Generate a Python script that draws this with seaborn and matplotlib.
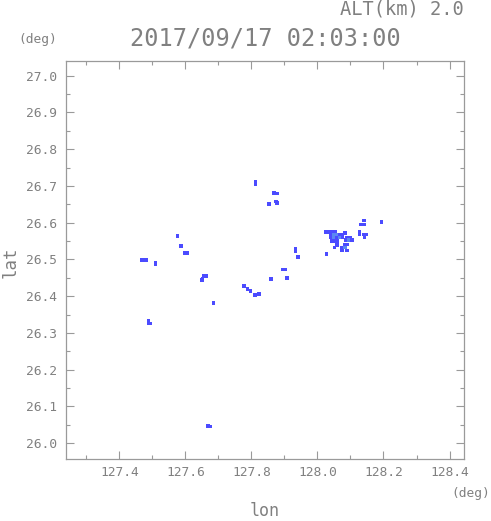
import matplotlib
matplotlib.use("Agg")
import matplotlib.pyplot as plt
import seaborn as sns
import pandas as pd
from matplotlib.ticker import MultipleLocator

# echo cells (lon, lat, level: 1 = weak, 2 = a bit stronger)
lon = [127.469, 127.480, 127.509, 127.509, 127.576, 127.586, 127.597, 127.606,
       127.656, 127.664, 127.652, 127.650, 127.685, 127.488, 127.488, 127.494,
       127.668, 127.676,
       127.812, 127.812, 127.868, 127.878, 127.853, 127.878, 127.874, 127.933,
       127.933, 127.941, 127.894, 127.902, 127.908, 127.859, 127.777, 127.788,
       127.797, 127.823, 127.811,
       128.024, 128.032, 128.044, 128.053, 128.040, 128.049, 128.058, 128.067,
       128.076, 128.040, 128.049, 128.058, 128.067, 128.076, 128.043, 128.052,
       128.059, 128.083, 128.090, 128.099, 128.087, 128.096, 128.105, 128.059,
       128.052, 128.082, 128.090, 128.074, 128.083, 128.074, 128.090, 128.027,
       128.127, 128.127, 128.140, 128.131, 128.140, 128.140, 128.147, 128.142,
       128.194]
lat = [26.499, 26.498, 26.492, 26.486, 26.564, 26.536, 26.517, 26.517,
       26.454, 26.454, 26.448, 26.444, 26.381, 26.332, 26.326, 26.326,
       26.047, 26.045,
       26.712, 26.704, 26.680, 26.679, 26.651, 26.654, 26.658, 26.530,
       26.522, 26.507, 26.473, 26.473, 26.450, 26.447, 26.428, 26.420,
       26.414, 26.406, 26.403,
       26.574, 26.574, 26.576, 26.576, 26.568, 26.568, 26.568, 26.568,
       26.568, 26.560, 26.560, 26.560, 26.560, 26.560, 26.551, 26.551,
       26.551, 26.571, 26.560, 26.560, 26.553, 26.553, 26.553, 26.539,
       26.532, 26.541, 26.541, 26.532, 26.532, 26.524, 26.524, 26.514,
       26.576, 26.570, 26.606, 26.595, 26.595, 26.568, 26.568, 26.560,
       26.602]
level = [1] * 18 + [1] * 19 + [1, 1, 1, 1, 1, 2, 2, 1, 1, 1, 2, 1, 2, 1, 1, 1,
                               1, 1, 1, 1, 1, 2, 1, 1, 1, 1, 1, 1, 2, 1, 1, 1,
                               1, 1, 1, 1, 1, 1, 1, 1, 1]

xticks = [127.4, 127.6, 127.8, 128.0, 128.2, 128.4]
yticks = [26.0, 26.1, 26.2, 26.3, 26.4, 26.5, 26.6, 26.7, 26.8, 26.9, 27.0]

df = pd.DataFrame({"lon": lon, "lat": lat, "level": level})

sns.set_style("ticks")
plt.rcParams['font.family'] = ['DejaVu Sans Mono', 'DejaVu Sans']
gray = '#808080'
axcol = '#9a9a9a'

fig = plt.figure(figsize=(4.91, 5.21), dpi=100)
W, H = 491.0, 521.0
ax = fig.add_axes([66 / W, 62 / H, 397.7 / W, 397.7 / H])

sns.scatterplot(data=df, x="lon", y="lat", hue="level",
                palette={1: '#4b4bff', 2: '#5a88f2'}, marker='s', s=7,
                linewidth=0, legend=False, ax=ax)

ax.set_xlim(127.238, 128.443)
ax.set_ylim(25.957, 27.039)
ax.set_xticks(xticks)
ax.set_xticklabels(["%.1f" % v for v in xticks])
ax.set_yticks(yticks)
ax.set_yticklabels(["%.1f" % v for v in yticks])
ax.xaxis.set_minor_locator(MultipleLocator(0.1))
ax.yaxis.set_minor_locator(MultipleLocator(0.05))
ax.tick_params(which='both', direction='in', top=True, right=True,
               color=axcol, width=0.8, labelcolor=gray, labelsize=9.3)
ax.tick_params(which='major', length=5.5)
ax.tick_params(which='minor', length=2.8)
ax.tick_params(axis='y', pad=6.5)
ax.tick_params(axis='x', pad=5)
for sp in ax.spines.values():
    sp.set_color(axcol)
    sp.set_linewidth(0.9)
ax.set_xlabel("")
ax.set_ylabel("")

def ftxt(x, y, s, **kw):
    fig.text(x / W, 1 - y / H, s, color=gray, **kw)

ftxt(463.3, 9, "ALT(km) 2.0", fontsize=13.5, ha='right', va='center')
ftxt(265, 39, "2017/09/17 02:03:00", fontsize=17, ha='center', va='center')
ftxt(57.3, 40, "(deg)", fontsize=9.3, ha='right', va='center')
ftxt(490, 494, "(deg)", fontsize=9.3, ha='right', va='center')
ftxt(265, 511, "lon", fontsize=12, ha='center', va='center')
ftxt(11, 262, "lat", fontsize=12.5, ha='center', va='center', rotation=90)

fig.savefig("out.png", dpi=100)
